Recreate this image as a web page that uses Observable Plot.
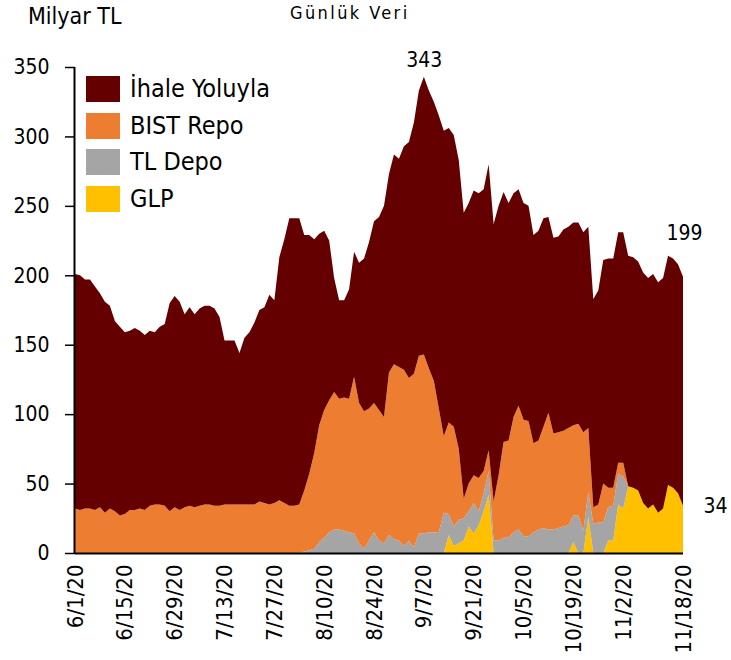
<!DOCTYPE html>
<html>
<head>
<meta charset="utf-8">
<script src="https://cdn.jsdelivr.net/npm/d3@7"></script>
<script src="https://cdn.jsdelivr.net/npm/@observablehq/plot@0.6"></script>
<style>
  body { margin: 0; background: #fff; }
  #wrap { position: relative; width: 731px; height: 660px; font-family: "DejaVu Sans Condensed", "Open Sans", sans-serif; color: #000; }
  .hdr { position: absolute; white-space: nowrap; }
  #legend { position: absolute; left: 86px; top: 71px; }
  .row { display: flex; align-items: center; height: 36.5px; }
  .sw { width: 34px; height: 26px; margin-right: 10px; }
  .lab { font-size: 25px; line-height: 26px; }
</style>
</head>
<body>
<div id="wrap">
  <div class="hdr" style="left:28px; top:3px; font-size:23px;">Milyar TL</div>
  <div class="hdr" style="left:290px; top:2px; font-size:18px; letter-spacing:2.4px;">Günlük Veri</div>
  <div id="legend"></div>
</div>
<script>
const seriesNames = ["İhale Yoluyla", "BIST Repo", "TL Depo", "GLP"];
const seriesColors = ["#640000", "#ED7D31", "#A5A5A5", "#FFC000"];
const tickLabels = ["6/1/20","6/15/20","6/29/20","7/13/20","7/27/20","8/10/20","8/24/20","9/7/20","9/21/20","10/5/20","10/19/20","11/2/20","11/18/20"];

const ihale = [169,169,165,165,161,154,152,146,137,136,
131,129,131,128,126,126,124,128,131,150,
152,150,139,143,139,142,143,143,142,136,
118,118,118,109,120,124,131,138,141,151,
146,175,190,207,207,206,184,172,154,138,
129,115,82,71,70,79,90,101,110,120,
131,139,152,143,151,150,161,170,181,191,
200,200,201,211,220,212,210,208,206,202,
205,205,203,206,200,194,180,171,161,156,
156,155,150,151,150,141,141,141,145,145,
146,145,144,145,150,154,161,165,165,166,
166,166,166,165,166,166,166,166,166,165,
165,165,165];

const bistRepo = [32,31,32,32,31,33,29,32,30,27,
28,31,31,32,31,34,35,35,34,30,
33,31,33,34,33,34,35,35,34,34,
35,35,35,35,35,35,35,37,36,35,
36,38,36,34,34,35,44,55,69,84,
92,95,99,94,96,96,113,101,99,95,
93,94,91,117,126,125,127,117,125,128,
129,118,109,89,55,66,72,51,14,20,
20,24,16,15,28,47,69,70,83,89,
84,83,64,64,73,84,69,69,69,70,
65,66,71,46,12,13,28,14,13,8,
10,0,0,0,0,0,0,0,0,0,
0,0,0];

const tlDepo = [0,0,0,0,0,0,0,0,0,0,
0,0,0,0,0,0,0,0,0,0,
0,0,0,0,0,0,0,0,0,0,
0,0,0,0,0,0,0,0,0,0,
0,0,0,0,0,0,1,2,3,8,
11,15,17,17,16,15,14,7,3,9,
15,9,7,13,10,9,5,9,4,14,
14,15,15,15,29,15,14,17,16,11,
22,10,13,17,9,9,11,11,15,17,
12,12,15,17,18,17,17,18,19,20,
19,27,16,18,21,22,22,24,25,22,
23,0,0,0,0,0,0,0,0,0,
0,0,0];

const glp = [0,0,0,0,0,0,0,0,0,0,
0,0,0,0,0,0,0,0,0,0,
0,0,0,0,0,0,0,0,0,0,
0,0,0,0,0,0,0,0,0,0,
0,0,0,0,0,0,0,0,0,0,
0,0,0,0,0,0,0,0,0,0,
0,0,0,0,0,0,0,0,0,0,
0,0,0,0,0,13,5,7,9,19,
14,20,30,42,0,0,0,0,0,0,
0,0,0,0,0,0,0,0,0,0,
8,0,0,26,0,0,0,9,9,35,
32,48,47,45,36,32,35,29,32,49,
47,43,34];

// business days (index positions on the axis)
const dates = d3.utcDays(new Date(Date.UTC(2020,5,1)), new Date(Date.UTC(2020,10,19)))
  .filter(d => d.getUTCDay() % 6 !== 0);
const fmt = d3.utcFormat("%-m/%-d/%y");
const tickIdx = tickLabels.map(l => dates.findIndex(d => fmt(d) === l));

const bySeries = {"İhale Yoluyla": ihale, "BIST Repo": bistRepo, "TL Depo": tlDepo, "GLP": glp};
const stackOrder = ["GLP", "TL Depo", "BIST Repo", "İhale Yoluyla"];
const long = [];
for (const s of stackOrder) bySeries[s].forEach((v, i) => long.push({i, s, v}));

const totals = ihale.map((v, i) => v + bistRepo[i] + tlDepo[i] + glp[i]);
const peakI = d3.maxIndex(totals);
const lastI = totals.length - 1;

const font = '"DejaVu Sans Condensed", "Open Sans", sans-serif';

const chart = Plot.plot({
  width: 731,
  height: 660,
  marginTop: 67,
  marginBottom: 107,
  marginLeft: 75,
  marginRight: 48,
  style: {fontFamily: font, background: "transparent", overflow: "visible"},
  x: {domain: [0, lastI], axis: null},
  y: {domain: [0, 350], axis: null},
  color: {domain: seriesNames, range: seriesColors},
  marks: [
    Plot.areaY(long, {x: "i", y: "v", fill: "s", order: stackOrder, curve: "linear"}),
    Plot.axisY({ticks: d3.range(0, 351, 50), tickSize: 10, tickPadding: 16, fontSize: 21, strokeWidth: 1.5, label: null}),
    Plot.axisX({ticks: tickIdx, tickFormat: i => fmt(dates[i]), tickSize: 0, tickPadding: 11, tickRotate: -90, fontSize: 22, label: null}),
    Plot.ruleX([0], {stroke: "black", strokeWidth: 2, dx: -1}),
    Plot.ruleY([0], {stroke: "black", strokeWidth: 2}),
    Plot.text([peakI], {x: d => d, y: d => totals[d], text: d => String(totals[d]), dy: -17, fontSize: 21}),
    Plot.text([lastI], {x: d => d, y: d => totals[d], text: d => String(totals[d]), dy: -44, dx: 1, fontSize: 21}),
    Plot.text([lastI], {x: d => d, y: d => glp[d], text: d => String(glp[d]), dx: 32, dy: 0, fontSize: 21})
  ]
});
chart.style.position = "absolute";
chart.style.left = "0px";
chart.style.top = "0px";
const wrap = document.getElementById("wrap");
wrap.insertBefore(chart, wrap.firstChild);

const legend = document.getElementById("legend");
seriesNames.forEach((n, k) => {
  const row = document.createElement("div");
  row.className = "row";
  row.innerHTML = `<div class="sw" style="background:${seriesColors[k]}"></div><div class="lab">${n}</div>`;
  legend.appendChild(row);
});
</script>
</body>
</html>
